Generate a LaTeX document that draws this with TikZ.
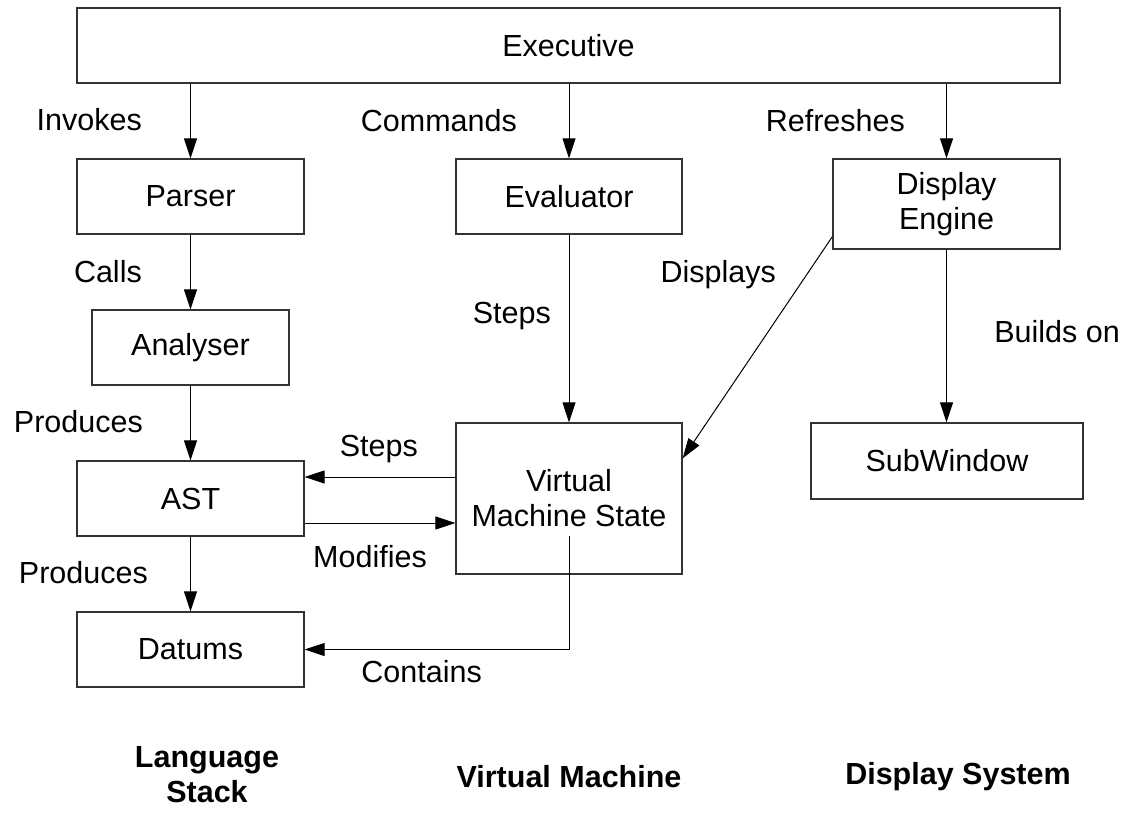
\documentclass[tikz,border=0pt]{standalone}
\usepackage{fontspec}
\setmainfont{Liberation Sans}
\usetikzlibrary{arrows.meta,calc}

\begin{document}
\begin{tikzpicture}[x=1pt,y=-1pt,
  every node/.style={font=\fontsize{30.5}{35}\selectfont},
  box/.style={draw=black!80,line width=1.3pt,rectangle,inner sep=0pt,
              align=center,minimum width=#1},
  conn/.style={line width=1pt,-{Triangle[length=20pt,width=13pt]}},
  lbl/.style={anchor=base east,inner sep=0pt},
  group/.style={font=\fontsize{30.5}{35}\selectfont\bfseries,align=center,inner sep=0pt}]

\useasboundingbox (0,0) rectangle (1134,818);

% components
\node[box=983pt,minimum height=75pt] (exec) at (568.5,45.5) {Executive};
\node[box=227pt,minimum height=75pt] (parser) at (190.5,196.5) {Parser};
\node[box=226pt,minimum height=75pt] (eval) at (569,196.5) {Evaluator};
\node[box=227pt,minimum height=90pt] (disp) at (946.5,204) {Display\\Engine};
\node[box=197pt,minimum height=75pt] (anal) at (190.5,347.5) {Analyser};
\node[box=227pt,minimum height=75pt] (ast) at (190.5,498.5) {AST};
\node[box=226pt,minimum height=151pt] (vms) at (569,498.5) {Virtual\\Machine State};
\node[box=272pt,minimum height=76pt] (subw) at (947,461) {SubWindow};
\node[box=227pt,minimum height=75pt] (datums) at (190.5,649.5) {Datums};

% connectors (yshift is measured upwards on the page)
\draw[conn] (exec.south -| parser.north) -- (parser.north);
\draw[conn] (exec.south -| eval.north) -- (eval.north);
\draw[conn] (exec.south -| disp.north) -- (disp.north);
\draw[conn] (parser.south) -- (anal.north);
\draw[conn] (anal.south) -- (ast.north);
\draw[conn] (ast.south) -- (datums.north);
\draw[conn] (eval.south) -- (vms.north);
\draw[conn] (disp.south) -- (disp.south |- subw.north);
\draw[conn] ([yshift=13pt]disp.south west) -- ([yshift=-36pt]vms.north east);
\draw[conn] ([yshift=21.5pt]vms.west) -- ([yshift=21.5pt]ast.east);
\draw[conn] ([yshift=-24.5pt]ast.east) -- ([yshift=-24.5pt]vms.west);
\draw[conn] ([yshift=-37.5pt]vms.center) |- (datums.east);

% connector labels
\node[lbl] (l-invokes) at (142,131) {Invokes};
\node[lbl] (l-commands) at (517,132) {Commands};
\node[lbl] (l-refreshes) at (905,132) {Refreshes};
\node[lbl] (l-calls) at (142,282) {Calls};
\node[lbl] (l-produces1) at (143,432) {Produces};
\node[lbl] (l-produces2) at (148,583) {Produces};
\node[lbl] (l-steps1) at (551,323) {Steps};
\node[lbl] (l-displays) at (776,282) {Displays};
\node[lbl] (l-builds) at (1120,342) {Builds on};
\node[lbl] (l-steps2) at (418,456) {Steps};
\node[lbl] (l-modifies) at (427,567) {Modifies};
\node[lbl] (l-contains) at (482,682) {Contains};

% subsystem titles
\node[group] (g-lang) at (207,775) {Language\\Stack};
\node[group] (g-vm) at (569,777) {Virtual Machine};
\node[group] (g-disp) at (958,777) {Display System};
\end{tikzpicture}
\end{document}
